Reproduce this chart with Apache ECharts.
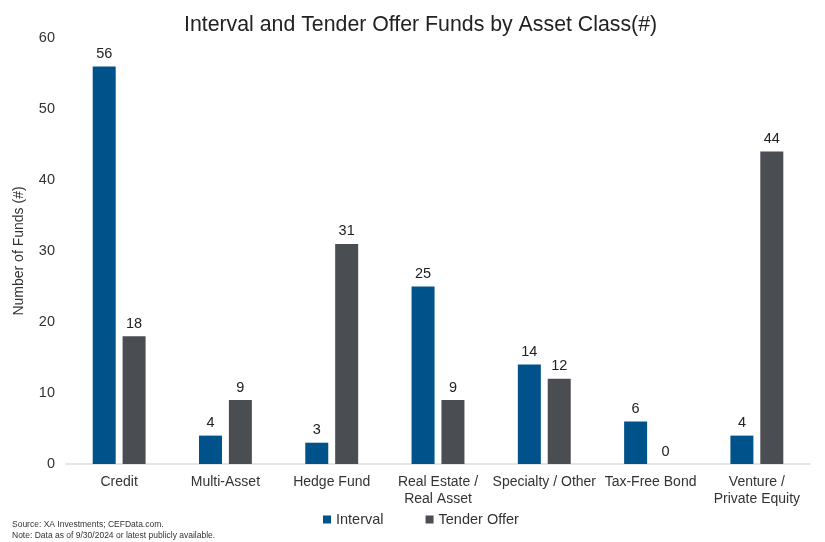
<!DOCTYPE html>
<html>
<head>
<meta charset="utf-8">
<script src="https://cdn.jsdelivr.net/npm/echarts@6/dist/echarts.min.js"></script>
<style>html,body{margin:0;padding:0;background:#fff;}#c{width:825px;height:542px;}</style>
</head>
<body>
<div id="c"></div>
<script>
const categories = ['Credit', 'Multi-Asset', 'Hedge Fund', 'Real Estate /\nReal Asset', 'Specialty / Other', 'Tax-Free Bond', 'Venture /\nPrivate Equity'];
const intervalValues = [56, 4, 3, 25, 14, 6, 4];
const tenderValues = [18, 9, 31, 9, 12, 0, 44];
const yTicks = [0, 10, 20, 30, 40, 50, 60];

const font = 'Liberation Sans, Arial, sans-serif';
const chart = echarts.init(document.getElementById('c'));
chart.setOption({
  animation: false,
  textStyle: { fontFamily: font },
  title: {
    text: 'Interval and Tender Offer Funds by Asset Class(#)',
    left: 179, top: 10,
    textStyle: { fontFamily: font, fontSize: 21.3, fontWeight: 'normal', color: '#222' }
  },
  legend: {
    top: 507, left: 318, itemGap: 42,
    icon: 'rect', itemWidth: 8, itemHeight: 8,
    textStyle: { fontFamily: font, fontSize: 14.5, color: '#333' },
    data: ['Interval', 'Tender Offer']
  },
  graphic: [{
    type: 'text', left: 12, top: 519,
    style: { text: 'Source: XA Investments; CEFData.com.\nNote: Data as of 9/30/2024 or latest publicly available.', fontFamily: font, fontSize: 8.5, lineHeight: 11, fill: '#333' }
  }],
  grid: { left: 66, right: 15, top: 38, bottom: 78 },
  xAxis: {
    type: 'category', data: categories,
    axisLine: { lineStyle: { color: '#ddd', width: 1.5 } },
    axisTick: { show: false },
    axisLabel: { fontFamily: font, fontSize: 14, color: '#333', margin: 10, lineHeight: 17, interval: 0 }
  },
  yAxis: {
    type: 'value', min: yTicks[0], max: yTicks[yTicks.length - 1], interval: 10,
    name: 'Number of Funds (#)', nameLocation: 'middle', nameGap: 40, nameRotate: 90,
    nameTextStyle: { fontFamily: font, fontSize: 14, color: '#333' },
    splitLine: { show: false },
    axisLine: { show: false },
    axisTick: { show: false },
    axisLabel: { fontFamily: font, fontSize: 14.5, color: '#333', margin: 11 }
  },
  series: [
    {
      name: 'Interval', type: 'bar', data: intervalValues,
      barWidth: 23, barGap: '30%',
      itemStyle: { color: '#00538A' },
      label: { show: true, position: 'top', distance: 5, fontFamily: font, fontSize: 14.5, color: '#222' }
    },
    {
      name: 'Tender Offer', type: 'bar', data: tenderValues,
      barWidth: 23,
      itemStyle: { color: '#4A4D52' },
      label: { show: true, position: 'top', distance: 5, fontFamily: font, fontSize: 14.5, color: '#222' }
    }
  ]
});
</script>
</body>
</html>
